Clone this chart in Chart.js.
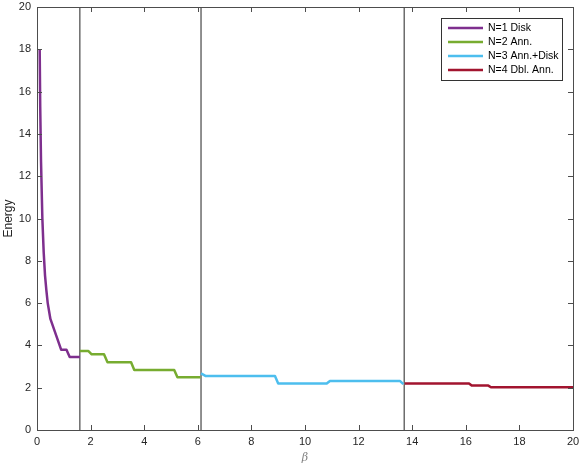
<!DOCTYPE html>
<html>
<head>
<meta charset="utf-8">
<script src="https://cdn.jsdelivr.net/npm/chart.js@4/dist/chart.umd.min.js"></script>
<style>
  html, body { margin: 0; padding: 0; background: #fff; }
  canvas { display: block; }
</style>
</head>
<body>
<canvas id="energyChart" width="581" height="466"></canvas>
<script>
// series: beta values and energies
var diskBeta = [0.1, 0.12, 0.15, 0.2, 0.25, 0.3, 0.35, 0.4, 0.5, 0.9, 1.1, 1.22, 1.6];
var diskEnergy = [18, 15.3, 12.7, 10, 8.4, 7.3, 6.6, 6.0, 5.25, 3.8, 3.8, 3.45, 3.45];

var annBeta = [1.6, 1.92, 2.04, 2.5, 2.63, 3.51, 3.63, 5.12, 5.24, 6.1];
var annEnergy = [3.73, 3.73, 3.58, 3.58, 3.2, 3.2, 2.84, 2.84, 2.49, 2.49];

var annDiskBeta = [6.12, 6.3, 8.88, 9.0, 10.81, 10.93, 13.54, 13.67];
var annDiskEnergy = [2.68, 2.55, 2.55, 2.2, 2.2, 2.32, 2.32, 2.17];

var dblAnnBeta = [13.72, 16.12, 16.22, 16.84, 16.94, 20];
var dblAnnEnergy = [2.2, 2.2, 2.1, 2.1, 2.02, 2.02];

// transition points between the states
var transitions = [1.6, 6.12, 13.7];

var seriesLabels = ["N=1 Disk", "N=2 Ann.", "N=3 Ann.+Disk", "N=4 Dbl. Ann."];
var seriesColors = ["#7E2F8E", "#77AC30", "#4DBEEE", "#A2142F"];

var xTicks = [0, 2, 4, 6, 8, 10, 12, 14, 16, 18, 20];
var yTicks = [0, 2, 4, 6, 8, 10, 12, 14, 16, 18, 20];

var FONT = "'Liberation Sans', Arial, sans-serif";

toPoints = (xs, ys) => xs.map((x, i) => ({ x: x, y: ys[i] }));

var datasets = [
    toPoints(diskBeta, diskEnergy),
    toPoints(annBeta, annEnergy),
    toPoints(annDiskBeta, annDiskEnergy),
    toPoints(dblAnnBeta, dblAnnEnergy)
].map((pts, i) => ({
    label: seriesLabels[i],
    data: pts,
    borderColor: seriesColors[i],
    backgroundColor: seriesColors[i],
    borderWidth: 2.5,
    pointRadius: 0,
    borderJoinStyle: 'round',
    tension: 0
}));

transitions.forEach(b => {
    datasets.push({
        label: '',
        data: [{ x: b, y: 0 }, { x: b, y: 20 }],
        borderColor: '#222',
        borderWidth: 1,
        pointRadius: 0
    });
});

// MATLAB style box with inward ticks plus a boxed legend
var boxPlugin = {
    id: 'matlabBox',
    afterDraw: (chart) => {
        var ctx = chart.ctx;
        var a = chart.chartArea;
        var xs = chart.scales.x, ys = chart.scales.y;
        ctx.save();
        ctx.strokeStyle = '#4d4d4d';
        ctx.lineWidth = 1;
        ctx.strokeRect(a.left + 0.5, a.top + 0.5, a.right - a.left, a.bottom - a.top);
        ctx.beginPath();
        xTicks.forEach(t => {
            var px = Math.round(xs.getPixelForValue(t)) + 0.5;
            ctx.moveTo(px, a.bottom); ctx.lineTo(px, a.bottom - 5);
            ctx.moveTo(px, a.top); ctx.lineTo(px, a.top + 5);
        });
        yTicks.forEach(t => {
            var py = Math.round(ys.getPixelForValue(t)) + 0.5;
            ctx.moveTo(a.left, py); ctx.lineTo(a.left + 5, py);
            ctx.moveTo(a.right, py); ctx.lineTo(a.right - 5, py);
        });
        ctx.stroke();

        // legend
        var bx = a.right - 132, by = a.top + 11, bw = 121, bh = 62;
        ctx.fillStyle = '#fff';
        ctx.fillRect(bx, by, bw, bh);
        ctx.strokeStyle = '#333';
        ctx.strokeRect(bx + 0.5, by + 0.5, bw, bh);
        ctx.font = '10.5px ' + FONT;
        ctx.textBaseline = 'middle';
        seriesLabels.forEach((lab, i) => {
            var ry = by + 10 + i * 14;
            ctx.strokeStyle = seriesColors[i];
            ctx.lineWidth = 2.5;
            ctx.beginPath();
            ctx.moveTo(bx + 7, ry); ctx.lineTo(bx + 42, ry);
            ctx.stroke();
            ctx.fillStyle = '#000';
            ctx.fillText(lab, bx + 47, ry);
        });
        ctx.restore();
    }
};

new Chart(document.getElementById('energyChart').getContext('2d'), {
    type: 'line',
    data: { datasets: datasets },
    options: {
        responsive: false,
        animation: false,
        layout: { padding: { top: 7, right: 8, left: 0, bottom: 0 } },
        plugins: {
            legend: { display: false },
            tooltip: { enabled: false }
        },
        scales: {
            x: {
                type: 'linear',
                min: 0,
                max: 20,
                afterBuildTicks: (s) => { s.ticks = xTicks.map(v => ({ value: v })); },
                afterFit: (s) => { s.height = 36; s.paddingLeft = 0; s.paddingRight = 0; },
                grid: { display: false, drawTicks: false },
                border: { display: false },
                ticks: { color: '#262626', font: { family: FONT, size: 11 }, padding: 5, maxRotation: 0 },
                title: {
                    display: true,
                    text: 'β',
                    color: '#808080',
                    font: { family: 'DejaVu Serif', size: 11, style: 'italic' },
                    padding: { top: 0, bottom: 1 }
                }
            },
            y: {
                type: 'linear',
                min: 0,
                max: 20,
                afterBuildTicks: (s) => { s.ticks = yTicks.map(v => ({ value: v })); },
                afterFit: (s) => { s.width = 37; s.paddingTop = 0; s.paddingBottom = 0; },
                grid: { display: false, drawTicks: false },
                border: { display: false },
                ticks: { color: '#262626', font: { family: FONT, size: 11 }, padding: 6 },
                title: {
                    display: true,
                    text: 'Energy',
                    color: '#262626',
                    font: { family: FONT, size: 12 },
                    padding: { top: 1, bottom: 0 }
                }
            }
        }
    },
    plugins: [boxPlugin]
});
</script>
</body>
</html>
